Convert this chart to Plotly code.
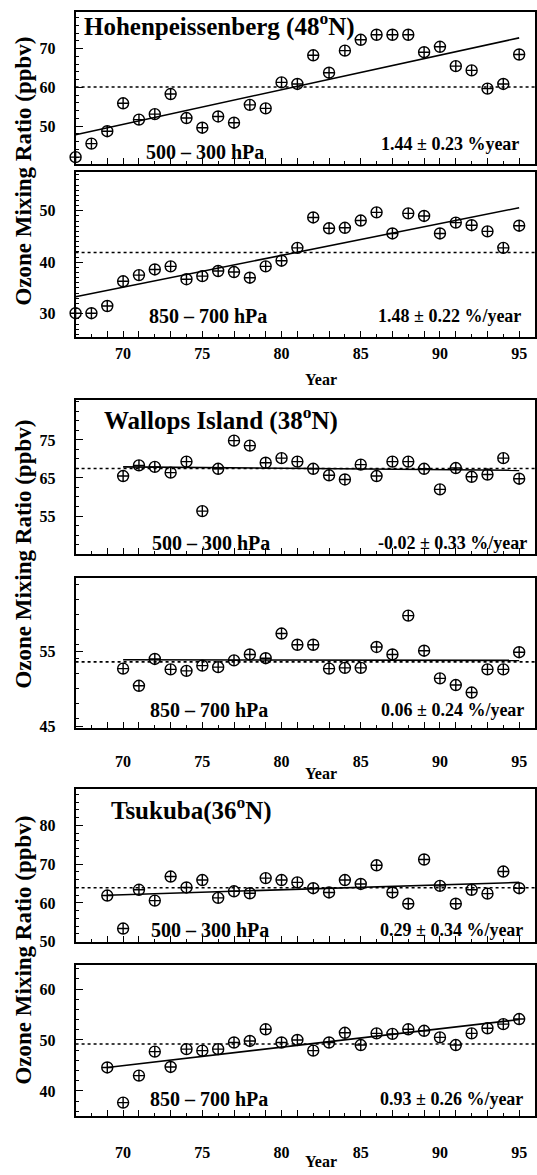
import plotly.graph_objects as go

W, H = 537, 1175

# ---------------- data ----------------
hoh_years = list(range(67, 96))
hoh_upper = [42.0, 45.5, 48.7, 55.9, 51.7, 53.1, 58.3, 52.1, 49.6, 52.5, 50.9, 55.5, 54.6, 61.3,
             60.9, 68.3, 63.8, 69.5, 72.3, 73.6, 73.6, 73.6, 69.1, 70.5, 65.5, 64.4, 59.7, 60.9, 68.5]
hoh_lower = [30.1, 30.1, 31.5, 36.3, 37.5, 38.6, 39.2, 36.7, 37.3, 38.3, 38.1, 37.0, 39.2, 40.3,
             42.8, 48.7, 46.6, 46.7, 48.1, 49.7, 45.6, 49.5, 49.0, 45.6, 47.7, 47.2, 46.0, 42.8, 47.1]
hoh_upper_trend = [47.8, 72.8]
hoh_lower_trend = [33.3, 50.6]
hoh_upper_mean = 60.1
hoh_lower_mean = 41.9

wal_years = list(range(70, 96))
wal_upper = [65.5, 68.3, 67.9, 66.4, 69.3, 56.3, 67.4, 74.8, 73.5, 69.0, 70.2, 69.3, 67.4, 65.7,
             64.6, 68.5, 65.5, 69.3, 69.3, 67.4, 62.0, 67.6, 65.3, 65.9, 70.2, 64.8]
wal_lower = [52.7, 50.4, 54.0, 52.6, 52.4, 53.1, 52.9, 53.8, 54.6, 54.1, 57.4, 55.9, 55.9, 52.7,
             52.8, 52.8, 55.6, 54.6, 59.8, 55.1, 51.4, 50.5, 49.5, 52.6, 52.6, 54.9]
wal_upper_trend = [67.9, 67.0]
wal_lower_trend = [53.9, 53.8]
wal_upper_mean = 67.5
wal_lower_mean = 53.6

tsu_years = list(range(69, 96))
tsu_upper = [61.9, 53.4, 63.4, 60.6, 66.8, 64.0, 65.9, 61.3, 63.0, 62.5, 66.4, 65.9, 65.3, 63.8,
             62.7, 65.9, 64.9, 69.7, 62.7, 59.8, 71.2, 64.4, 59.8, 63.4, 62.4, 68.1, 63.8]
tsu_lower = [44.6, 37.7, 43.0, 47.7, 44.7, 48.2, 47.9, 48.2, 49.5, 49.8, 52.1, 49.5, 50.0, 47.9,
             49.5, 51.4, 49.0, 51.3, 51.2, 52.1, 51.8, 50.5, 49.0, 51.3, 52.3, 53.1, 54.1]
tsu_upper_trend = [62.0, 65.3]
tsu_lower_trend = [44.6, 54.0]
tsu_upper_mean = 63.9
tsu_lower_mean = 49.2

x_range = [67, 96]
x_labels = [70, 75, 80, 85, 90, 95]

stations = ["Hohenpeissenberg (48<sup>o</sup>N)", "Wallops Island (38<sup>o</sup>N)", "Tsukuba(36<sup>o</sup>N)"]
layers = ["500 \u2013 300 hPa", "850 \u2013 700 hPa"]
trend_texts = ["1.44 \u00b1 0.23 %year", "1.48 \u00b1 0.22 %/year",
               "-0.02 \u00b1 0.33 %/year", "0.06 \u00b1 0.24 %/year",
               "0.29 \u00b1 0.34 %/year", "0.93 \u00b1 0.26 %/year"]

panels = [
    dict(years=hoh_years, vals=hoh_upper, trend=hoh_upper_trend, mean=hoh_upper_mean,
         yr=[40.3, 79.5], yt=[40, 50, 60, 70], ym=2, top=12, bot=165, labels=False),
    dict(years=hoh_years, vals=hoh_lower, trend=hoh_lower_trend, mean=hoh_lower_mean,
         yr=[25.4, 57.6], yt=[30, 40, 50], ym=1, top=173, bot=340, labels=True, std=0),
    dict(years=wal_years, vals=wal_upper, trend=wal_upper_trend, mean=wal_upper_mean,
         yr=[45.1, 85.5], yt=[55, 65, 75], ym=2.5, top=403, bot=558, labels=False),
    dict(years=wal_years, vals=wal_lower, trend=wal_lower_trend, mean=wal_lower_mean,
         yr=[44.7, 64.9], yt=[45, 55, 65], ym=2, top=582, bot=734, labels=True, std=17),
    dict(years=tsu_years, vals=tsu_upper, trend=tsu_upper_trend, mean=tsu_upper_mean,
         yr=[50, 89.4], yt=[50, 60, 70, 80], ym=2, top=795, bot=949, labels=False),
    dict(years=tsu_years, vals=tsu_lower, trend=tsu_lower_trend, mean=tsu_lower_mean,
         yr=[35, 64.8], yt=[40, 50, 60], ym=2, top=972, bot=1125, labels=True, std=20),
]

FONT = "Liberation Serif"
x_dom = [74 / W, 536 / W]

fig = go.Figure()
layout = dict(width=W, height=H, margin=dict(l=0, r=0, t=0, b=0),
              paper_bgcolor="white", plot_bgcolor="white", showlegend=False,
              font=dict(family=FONT, color="black"))

odd_years = list(range(67, 96, 2))
major_x = sorted(set(odd_years) | set(x_labels))

for i, p in enumerate(panels):
    n = "" if i == 0 else str(i + 1)
    xa, ya = "x" + n, "y" + n
    # mean (dotted)
    fig.add_trace(go.Scatter(x=x_range, y=[p["mean"], p["mean"]], mode="lines",
                             line=dict(color="black", width=1.6, dash="dot"),
                             xaxis=xa, yaxis=ya, hoverinfo="skip"))
    # trend (solid)
    fig.add_trace(go.Scatter(x=[p["years"][0], p["years"][-1]], y=p["trend"], mode="lines",
                             line=dict(color="black", width=1.6),
                             xaxis=xa, yaxis=ya, hoverinfo="skip"))
    # data
    fig.add_trace(go.Scatter(x=p["years"], y=p["vals"], mode="markers",
                             marker=dict(symbol="circle-cross-open", size=11, color="black",
                                         line=dict(width=1.4, color="black")),
                             cliponaxis=False, xaxis=xa, yaxis=ya))
    dom = [1 - p["bot"] / H, 1 - p["top"] / H]
    ticktext = [str(v) if (p["labels"] and v in x_labels) else " " for v in major_x]
    layout["xaxis" + n] = dict(domain=x_dom, range=x_range, anchor=ya,
                               showline=True, mirror=True, linecolor="black", linewidth=2,
                               showgrid=False, zeroline=False,
                               ticks="inside", ticklen=6, tickwidth=1.2, tickcolor="black",
                               tickmode="array", tickvals=major_x, ticktext=ticktext,
                               ticklabelstandoff=p.get("std", 0),
                               tickfont=dict(family=FONT, size=16, color="black", weight="bold"),
                               minor=dict(ticks="inside", ticklen=3, tickwidth=1, tickcolor="black",
                                          tickmode="linear", tick0=0, dtick=1, showgrid=False))
    layout["yaxis" + n] = dict(domain=dom, range=p["yr"], anchor=xa,
                               showline=True, mirror=True, linecolor="black", linewidth=2,
                               showgrid=False, zeroline=False,
                               ticks="inside", ticklen=7, tickwidth=1.2, tickcolor="black",
                               tickmode="array", tickvals=p["yt"], ticktext=[str(v) for v in p["yt"]],
                               ticklabelstandoff=15,
                               tickfont=dict(family=FONT, size=16, color="black", weight="bold"),
                               minor=dict(ticks="inside", ticklen=3.5, tickwidth=1, tickcolor="black",
                                          tickmode="linear", tick0=0, dtick=p["ym"], showgrid=False))

fig.update_layout(**layout)


def ann(text, px, py, size, xanchor="left", angle=0):
    fig.add_annotation(text=text, x=px / W, y=1 - py / H, xref="paper", yref="paper",
                       xanchor=xanchor, yanchor="middle", showarrow=False, textangle=angle,
                       font=dict(family=FONT, size=size, color="black", weight="bold"))


# station titles
ann(stations[0], 80, 25, 25)
ann(stations[1], 101, 422, 25)
ann(stations[2], 108, 815, 25)

# layer labels
layer_pos = [(204, 153), (207, 318), (210, 547), (208, 715), (209, 937), (208, 1107)]
for i, (px, py) in enumerate(layer_pos):
    ann(layers[i % 2], px, py, 20, xanchor="center")

# trend texts
trend_pos = [(522, 145), (524, 318), (530, 547), (527, 715), (526, 937), (526, 1107)]
for t, (px, py) in zip(trend_texts, trend_pos):
    ann(t, px, py, 18, xanchor="right")

# year labels
for py in [382, 779, 1170]:
    ann("Year", 321, py, 16, xanchor="center")

# y axis titles
for py in [172, 558, 957]:
    ann("Ozone Mixing Ratio (ppbv)", 22, py, 23, xanchor="center", angle=-90)

fig.write_html("out.html", config={"displayModeBar": False})

# remove default page margins so the figure sits at the window origin
with open("out.html", "r", encoding="utf-8") as f:
    html = f.read()
html = html.replace("<head>", "<head><style>html,body{margin:0;padding:0;overflow:hidden;}</style>", 1)
with open("out.html", "w", encoding="utf-8") as f:
    f.write(html)
